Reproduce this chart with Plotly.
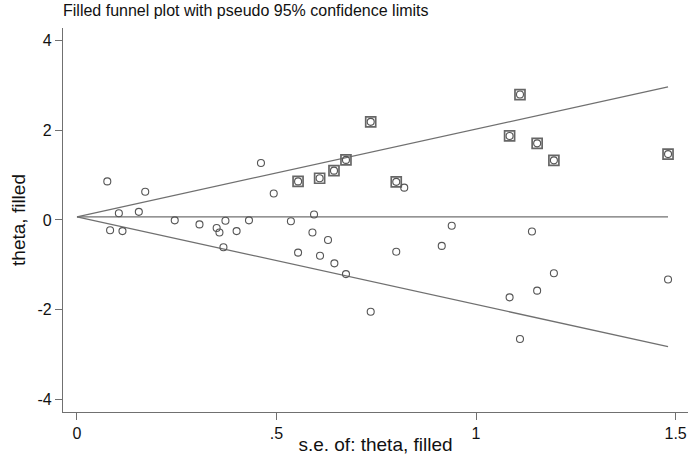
import plotly.graph_objects as go

# observed studies (s.e., theta)
se_obs = [0.076, 0.083, 0.105, 0.114, 0.155, 0.171, 0.245, 0.307, 0.350, 0.357,
          0.367, 0.372, 0.400, 0.431, 0.461, 0.493, 0.536, 0.554, 0.590, 0.594,
          0.609, 0.629, 0.645, 0.674, 0.736, 0.800, 0.820, 0.914, 0.939, 1.084,
          1.110, 1.140, 1.153, 1.195, 1.481]
theta_obs = [0.86, -0.23, 0.15, -0.25, 0.18, 0.63, -0.01, -0.10, -0.18, -0.28,
             -0.61, -0.02, -0.25, -0.01, 1.27, 0.59, -0.03, -0.73, -0.28, 0.12,
             -0.80, -0.45, -0.97, -1.21, -2.05, -0.71, 0.72, -0.58, -0.13, -1.73,
             -2.66, -0.26, -1.58, -1.19, -1.33]

# filled (imputed) studies
se_fill = [0.554, 0.608, 0.644, 0.674, 0.736, 0.800, 1.084, 1.110, 1.153, 1.195, 1.481]
theta_fill = [0.86, 0.93, 1.10, 1.34, 2.19, 0.85, 1.875, 2.80, 1.71, 1.33, 1.47]

# pseudo 95% confidence limits and pooled estimate
se_line = [0, 1.481]
upper = [0.07, 2.97]
lower = [0.07, -2.83]
pooled = [0.07, 0.07]

grey = '#707070'
fig = go.Figure()

for ys in [upper, lower, pooled]:
    fig.add_trace(go.Scatter(x=se_line, y=ys, mode='lines',
                             line=dict(color=grey, width=1.3), hoverinfo='skip'))

fig.add_trace(go.Scatter(x=se_fill, y=theta_fill, mode='markers',
                         marker=dict(symbol='square-open', size=10, color='#666666',
                                     line=dict(width=1.7, color='#666666'))))
fig.add_trace(go.Scatter(x=se_obs + se_fill, y=theta_obs + theta_fill, mode='markers',
                         marker=dict(symbol='circle-open', size=7, color='#555555',
                                     line=dict(width=1.1, color='#555555'))))

fig.update_layout(
    title=dict(text='Filled funnel plot with pseudo 95% confidence limits',
               x=63 / 692, xref='container', xanchor='left', y=0.99, yanchor='top',
               font=dict(size=16, color='#111111')),
    width=692, height=455,
    margin=dict(l=63, r=4, t=28, b=43, autoexpand=False),
    showlegend=False,
    paper_bgcolor='white', plot_bgcolor='white',
    font=dict(family='Liberation Sans, Arial, sans-serif', size=16, color='#111111'),
    xaxis=dict(range=[-0.035, 1.531], tickvals=[0, 0.5, 1, 1.5],
               ticktext=['0', '.5', '1', '1.5'], automargin=False,
               showline=True, linecolor=grey, linewidth=1.2, showgrid=False,
               zeroline=False, ticks='outside', ticklen=7, tickcolor=grey,
               title=dict(text='s.e. of: theta, filled', standoff=0)),
    yaxis=dict(range=[-4.29, 4.286], tickvals=[-4, -2, 0, 2, 4],
               ticktext=['-4', '-2', '0', '2', '4'], automargin=False,
               showline=True, linecolor=grey, linewidth=1.2, showgrid=False,
               zeroline=False, ticks='outside', ticklen=7, tickcolor=grey,
               title=dict(text='theta, filled', standoff=6)),
)

# page body has a default margin; remove it so the figure fills the window
fig.write_html("out.html", config={'displayModeBar': False},
               post_script="document.body.style.margin='0';")
